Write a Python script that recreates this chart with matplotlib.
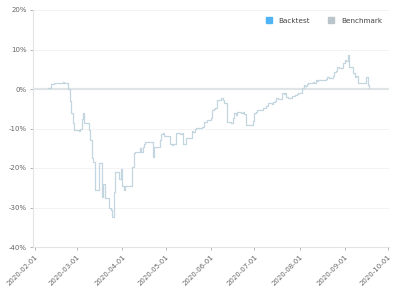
import matplotlib
matplotlib.use("Agg")
import matplotlib.pyplot as plt
import matplotlib.dates as mdates
from matplotlib.lines import Line2D
import pandas as pd

dates = [
    "2020-02-10", "2020-02-12", "2020-02-14", "2020-02-20", "2020-02-21", "2020-02-24", "2020-02-25",
    "2020-02-26", "2020-02-27", "2020-02-28", "2020-03-02", "2020-03-03", "2020-03-04", "2020-03-05",
    "2020-03-06", "2020-03-09", "2020-03-10", "2020-03-11", "2020-03-12", "2020-03-13", "2020-03-16",
    "2020-03-17", "2020-03-18", "2020-03-19", "2020-03-20", "2020-03-23", "2020-03-24", "2020-03-25",
    "2020-03-26", "2020-03-27", "2020-03-30", "2020-03-31", "2020-04-01", "2020-04-02", "2020-04-03",
    "2020-04-07", "2020-04-08", "2020-04-09", "2020-04-10", "2020-04-13", "2020-04-14", "2020-04-15",
    "2020-04-16", "2020-04-17", "2020-04-20", "2020-04-21", "2020-04-22", "2020-04-23", "2020-04-24",
    "2020-04-27", "2020-04-28", "2020-04-29", "2020-04-30", "2020-05-04", "2020-05-05", "2020-05-06",
    "2020-05-07", "2020-05-08", "2020-05-11", "2020-05-12", "2020-05-13", "2020-05-14", "2020-05-15",
    "2020-05-18", "2020-05-19", "2020-05-20", "2020-05-21", "2020-05-22", "2020-05-25", "2020-05-26",
    "2020-05-27", "2020-05-28", "2020-05-29", "2020-06-01", "2020-06-02", "2020-06-03", "2020-06-04",
    "2020-06-05", "2020-06-08", "2020-06-09", "2020-06-10", "2020-06-11", "2020-06-12", "2020-06-15",
    "2020-06-16", "2020-06-17", "2020-06-18", "2020-06-19", "2020-06-22", "2020-06-23", "2020-06-24",
    "2020-06-25", "2020-06-29", "2020-06-30", "2020-07-01", "2020-07-02", "2020-07-03", "2020-07-06",
    "2020-07-07", "2020-07-08", "2020-07-09", "2020-07-10", "2020-07-13", "2020-07-14", "2020-07-15",
    "2020-07-16", "2020-07-17", "2020-07-20", "2020-07-21", "2020-07-22", "2020-07-23", "2020-07-24",
    "2020-07-27", "2020-07-28", "2020-07-29", "2020-07-30", "2020-07-31", "2020-08-03", "2020-08-04",
    "2020-08-05", "2020-08-06", "2020-08-07", "2020-08-10", "2020-08-11", "2020-08-12", "2020-08-13",
    "2020-08-14", "2020-08-17", "2020-08-18", "2020-08-19", "2020-08-20", "2020-08-21", "2020-08-24",
    "2020-08-25", "2020-08-26", "2020-08-27", "2020-08-28", "2020-08-31", "2020-09-01", "2020-09-02",
    "2020-09-03", "2020-09-04", "2020-09-07", "2020-09-08", "2020-09-09", "2020-09-10", "2020-09-11",
    "2020-09-14", "2020-09-15", "2020-09-16", "2020-09-17", "2020-09-18",
]
benchmark = [
    0.2, 1.3, 1.6, 1.7, 1.5, 0.0, -3.0,
    -6.0, -8.5, -10.5, -10.6, -10.2, -7.5, -6.0,
    -8.5, -10.3, -13.0, -17.5, -18.6, -25.5, -18.7,
    -18.7, -27.3, -24.0, -27.5, -30.0, -30.6, -32.3,
    -26.0, -20.9, -22.8, -20.3, -24.6, -25.5, -24.6,
    -24.6, -19.7, -16.3, -15.9, -15.0, -15.9, -14.6,
    -13.8, -13.3, -13.5, -13.3, -17.1, -14.6, -14.6,
    -13.0, -11.5, -11.2, -12.0, -14.0, -14.2, -14.0,
    -13.8, -11.2, -11.3, -11.2, -14.0, -13.8, -12.5,
    -12.5, -10.6, -10.8, -10.2, -9.9, -9.9, -9.5,
    -8.3, -8.3, -7.8, -7.4, -5.3, -5.0, -4.8,
    -2.8, -2.4, -2.8, -3.6, -3.6, -8.3, -8.6,
    -7.4, -6.0, -6.5, -5.8, -6.2, -5.9, -6.3,
    -9.1, -9.1, -8.0, -6.0, -5.8, -5.3, -5.3,
    -4.8, -4.9, -4.3, -3.6, -3.8, -3.2, -3.0,
    -2.3, -2.6, -1.1, -1.3, -1.1, -2.0, -2.4,
    -1.8, -1.7, -1.5, -1.2, -1.0, 0.2, 1.0,
    0.8, 1.2, 1.5, 1.8, 1.6, 2.3, 2.0,
    2.3, 2.4, 2.2, 2.6, 3.1, 2.9, 3.3,
    4.4, 4.6, 5.6, 5.4, 6.5, 7.3, 7.0,
    8.6, 5.6, 4.0, 3.1, 3.3, 1.5, 1.4,
    1.6, 1.5, 3.1, 1.0, 0.3,
]
y_ticks = [20, 10, 0, -10, -20, -30, -40]
x_ticks = ["2020-02-01", "2020-03-01", "2020-04-01", "2020-05-01", "2020-06-01",
           "2020-07-01", "2020-08-01", "2020-09-01", "2020-10-01"]
legend_labels = ["Backtest", "Benchmark"]

fig = plt.figure(figsize=(4.03, 2.91), dpi=100)
ax = fig.add_axes([33 / 403, 1 - 247 / 291, (388.5 - 33) / 403, (247 - 10) / 291])

d = pd.to_datetime(dates)
ax.plot(d, benchmark, drawstyle="steps-post", color="#c3d6e0", lw=0.9, zorder=3)

ax.axhline(0, color="#dfe4e7", lw=1.6, zorder=2)
ax.set_ylim(-40, 20)
ax.set_yticks(y_ticks)
ax.set_yticklabels([f"{t}%" for t in y_ticks])
ax.grid(axis="y", color="#f1f1f1", lw=0.6)
ax.set_axisbelow(True)

xt = pd.to_datetime(x_ticks)
ax.set_xticks(xt)
ax.set_xticklabels(x_ticks, rotation=45, ha="right", rotation_mode="anchor")
ax.set_xlim(xt[0] - pd.Timedelta(days=1.4), xt[-1] + pd.Timedelta(days=0.2))

for s in ["top", "right"]:
    ax.spines[s].set_visible(False)
for s in ["left", "bottom"]:
    ax.spines[s].set_color("#e3e3e3")
    ax.spines[s].set_linewidth(0.8)
ax.tick_params(axis="both", labelsize=5, colors="#666666", length=2.5, width=0.6, pad=2)
ax.tick_params(axis="both", color="#aaaaaa")

handles = [Line2D([], [], marker="s", ls="", color="#4fb3f5", markersize=4),
           Line2D([], [], marker="s", ls="", color="#b9c4cb", markersize=4)]
leg = ax.legend(handles, legend_labels, loc="upper right", ncol=2, frameon=False,
                fontsize=5.2, handletextpad=0.3, columnspacing=2.0,
                bbox_to_anchor=(1.0, 0.995), labelcolor="#444444")

fig.savefig("out.png", dpi=100, facecolor="white")
